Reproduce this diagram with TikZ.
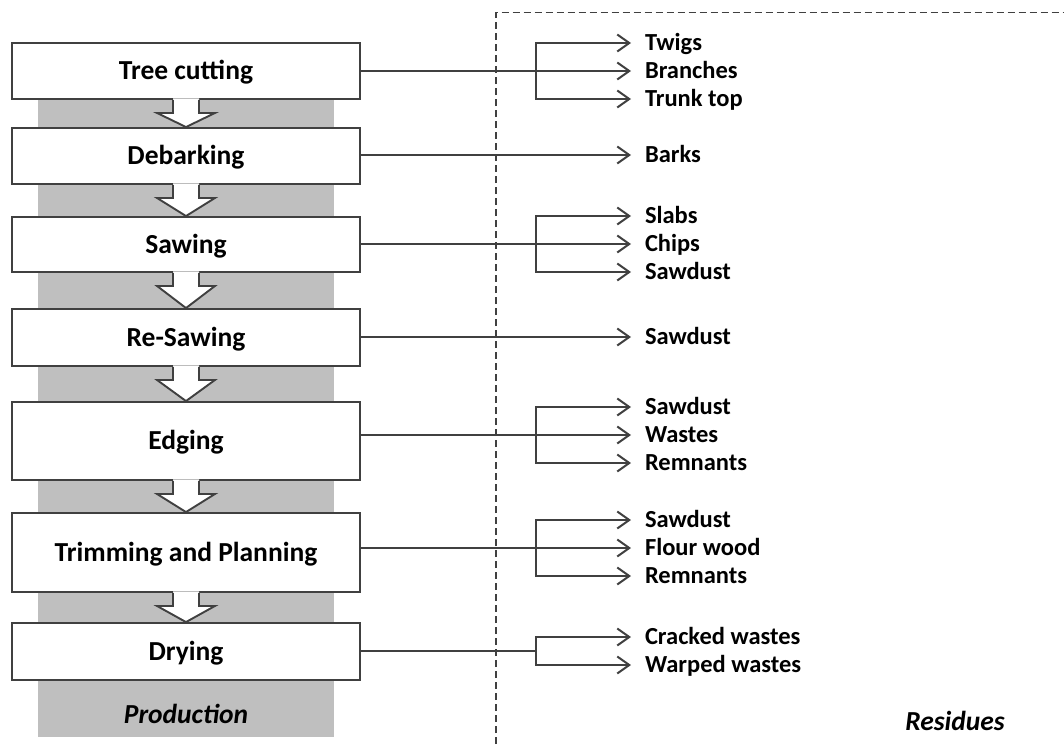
\documentclass[tikz,border=0pt]{standalone}
\usepackage{fontspec}
\setmainfont{Carlito}
\usetikzlibrary{arrows.meta,calc}
\definecolor{ln}{RGB}{64,64,64}
\definecolor{colgrey}{RGB}{191,191,191}
\newcommand\flowarrow[2]{%
  \fill[white] let \p1=(#1.south), \p2=(#2.north) in
    (\x1-13pt,\y1+1.5pt) -- (\x1-13pt,\y1-13pt) -- (\x1-29pt,\y1-13pt) -- (\x1,\y2)
    -- (\x1+29pt,\y1-13pt) -- (\x1+13pt,\y1-13pt) -- (\x1+13pt,\y1+1.5pt) -- cycle;
  \draw[conn,line join=miter] let \p1=(#1.south), \p2=(#2.north) in
    (\x1-13pt,\y1) -- (\x1-13pt,\y1-13pt) -- (\x1-29pt,\y1-13pt) -- (\x1,\y2)
    -- (\x1+29pt,\y1-13pt) -- (\x1+13pt,\y1-13pt) -- (\x1+13pt,\y1);}
\begin{document}
\begin{tikzpicture}[x=1pt,y=-1pt,
  conn/.style={draw=ln,line width=1.9pt},
  stage/.style={draw=ln,line width=1.9pt,fill=white,minimum width=348pt,inner sep=0pt,
    font=\fontsize{27.5}{30}\selectfont\bfseries,text height=17.6pt,text depth=0pt},
  res/.style={anchor=west,inner xsep=14pt,inner ysep=0pt,outer sep=0pt,
    font=\fontsize{24.5}{28}\selectfont\bfseries,text height=15.7pt,text depth=0pt},
  barb/.tip={Straight Barb[length=12pt,width=17pt,line width=2pt]},
  tip/.style={-barb},
  tips/.style={barb-barb},
  title/.style={font=\fontsize{27.5}{30}\selectfont\bfseries\itshape,inner sep=0pt,text height=17.6pt,text depth=0pt}]
\useasboundingbox (0,0) rectangle (1064,744);
\fill[white] (0,0) rectangle (1064,744);
% grey production column
\fill[colgrey] (38,60) rectangle (334,737);
% dashed residues frame
\draw[ln,line width=1.3pt,dash pattern=on 7pt off 4pt] (496,744) -- (496,12.5) -- (1064,12.5);
% stages
\node[stage,minimum height=56pt] (tc) at (186,71) {Tree cutting};
\node[stage,minimum height=56pt] (db) at (186,156) {Debarking};
\node[stage,minimum height=55pt] (sw) at (186,244.5) {Sawing};
\node[stage,minimum height=57pt] (rs) at (186,337.5) {Re-Sawing};
\node[stage,minimum height=78pt] (ed) at (186,441) {Edging};
\node[stage,minimum height=79pt] (tp) at (186,552.5) {Trimming and Planning};
\node[stage,minimum height=57pt] (dr) at (186,651.5) {Drying};
\flowarrow{tc}{db}
\flowarrow{db}{sw}
\flowarrow{sw}{rs}
\flowarrow{rs}{ed}
\flowarrow{ed}{tp}
\flowarrow{tp}{dr}
\node[title] (prod) at (186,715) {Production};
\node[title] (resid) at (955,722) {Residues};
% residues labels
\node[res] (twigs) at (631,43) {Twigs};
\node[res] (branches) at (631,71) {Branches};
\node[res] (trunk) at (631,99) {Trunk top};
\node[res] (barks) at (631,155) {Barks};
\node[res] (slabs) at (631,216) {Slabs};
\node[res] (chips) at (631,244) {Chips};
\node[res] (sawd1) at (631,272) {Sawdust};
\node[res] (sawd2) at (631,337) {Sawdust};
\node[res] (sawd3) at (631,407) {Sawdust};
\node[res] (wastes) at (631,435) {Wastes};
\node[res] (remn1) at (631,463) {Remnants};
\node[res] (sawd4) at (631,520) {Sawdust};
\node[res] (flour) at (631,548) {Flour wood};
\node[res] (remn2) at (631,576) {Remnants};
\node[res] (cracked) at (631,637) {Cracked wastes};
\node[res] (warped) at (631,665) {Warped wastes};
% junction points
\coordinate (j1) at (536,71);
\coordinate (j3) at (536,244);
\coordinate (j5) at (536,435);
\coordinate (j6) at (536,548);
\coordinate (j7) at (536,651);
% connectors
\draw[conn,tip] (tc.east |- branches.west) -- (branches.west);
\draw[conn,tips] (twigs.west) -| (j1) |- (trunk.west);
\draw[conn,tip] (db.east |- barks.west) -- (barks.west);
\draw[conn,tip] (sw.east |- chips.west) -- (chips.west);
\draw[conn,tips] (slabs.west) -| (j3) |- (sawd1.west);
\draw[conn,tip] (rs.east |- sawd2.west) -- (sawd2.west);
\draw[conn,tip] (ed.east |- wastes.west) -- (wastes.west);
\draw[conn,tips] (sawd3.west) -| (j5) |- (remn1.west);
\draw[conn,tip] (tp.east |- flour.west) -- (flour.west);
\draw[conn,tips] (sawd4.west) -| (j6) |- (remn2.west);
\draw[conn] (dr.east |- j7) -- (j7);
\draw[conn,tips] (cracked.west) -| (j7) |- (warped.west);
\end{tikzpicture}
\end{document}
